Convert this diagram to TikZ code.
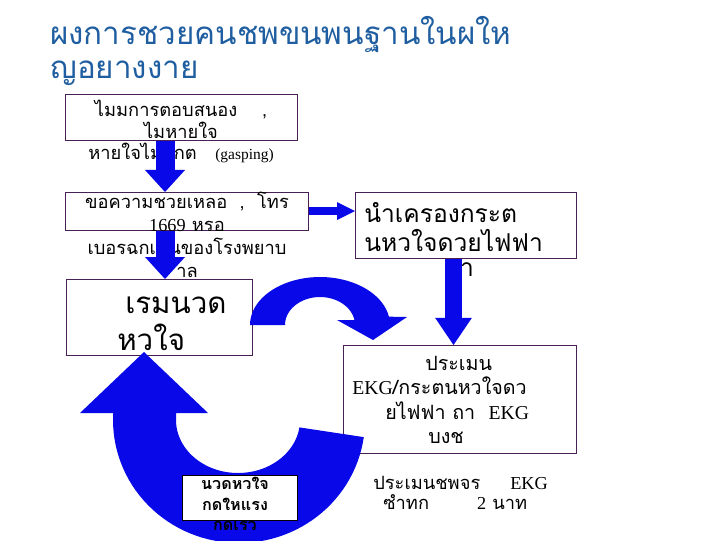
\documentclass[tikz,border=0pt]{standalone}
\usepackage{fontspec}
\setmainfont{Liberation Serif}
\newfontfamily\thaifont[Script=Thai]{Loma}
\usetikzlibrary{arrows.meta}

\definecolor{titleblue}{RGB}{31,94,160}
\definecolor{boxline}{RGB}{72,32,84}
\definecolor{arrowblue}{RGB}{8,8,232}

\tikzset{
  stepbox/.style={draw=boxline, fill=white, line width=0.6pt, inner sep=0pt, anchor=north west},
  thtext/.style={font=\thaifont\fontsize{13}{16}\selectfont, align=center, inner sep=0pt},
  blockarrow/.style 2 args={draw=arrowblue, -{Triangle[width=#1,length=#2,line width=0pt]}},
}

\begin{document}
\begin{tikzpicture}[x=0.025cm,y=-0.025cm]
  \useasboundingbox[fill=white] (0,0) rectangle (720,540);
  \clip (0,0) rectangle (720,540);

  % หัวเรื่อง
  \node[thtext, align=left, anchor=west, text=titleblue,
        font=\thaifont\fontsize{22.3}{24.5}\selectfont] (title) at (50,51)
        {ผงการชวยคนชพขนพนฐานในผให\\ญอยางงาย};

  % กล่องที่ 1
  \node[stepbox, minimum width=232*0.025cm, minimum height=46*0.025cm] (box1) at (65,94) {};
  \node[thtext, font=\thaifont\fontsize{13}{15.6}\selectfont] (txt1) at (181,131.5)
        {ไมมการตอบสนอง\ \ \ \ ,\\ไมหายใจ\\หายใจไมปกต\ \ \ {\rmfamily\fontsize{11}{15.6}\selectfont(gasping)}};

  % กล่องที่ 2
  \node[stepbox, minimum width=243*0.025cm, minimum height=38*0.025cm] (box2) at (65,192) {};
  \node[thtext, font=\thaifont\fontsize{13}{16.3}\selectfont] (txt2) at (187,235)
        {ขอความชวยเหลอ\ \ ,\ \ โทร\\{\rmfamily 1669} หรอ\\เบอรฉกเฉนของโรงพยาบ\\าล};

  % กล่องที่ 3
  \node[stepbox, minimum width=186*0.025cm, minimum height=76*0.025cm] (box3) at (66,279) {};
  \node[thtext, align=left, anchor=west, font=\thaifont\fontsize{21}{26}\selectfont] (txt3) at (117,323.5)
        {\hspace*{0.2cm}เรมนวด\\หวใจ};

  % กล่องที่ 4
  \node[stepbox, minimum width=221*0.025cm, minimum height=66*0.025cm] (box4) at (355,192) {};
  \node[thtext, align=left, anchor=west, font=\thaifont\fontsize{17.5}{21}\selectfont] (txt4) at (364,227)
        {นำเครองกระต\\นหวใจดวยไฟฟา};
  \node[thtext, font=\thaifont\fontsize{17.5}{21}\selectfont] (txt4b) at (459,270) {มา};

  % กล่องที่ 5
  \node[stepbox, minimum width=233*0.025cm, minimum height=108*0.025cm] (box5) at (343,345) {};
  \node[thtext, align=left, anchor=west, font=\thaifont\fontsize{14}{17.4}\selectfont] (txt5) at (352,400)
        {\hspace*{1.825cm}ประเมน\\{\rmfamily EKG}/กระตนหวใจดว\\\hspace*{0.825cm}ยไฟฟา ถา\ \ {\rmfamily EKG}\\\hspace*{1.9cm}บงช};

  % ลูกศรตรง
  \coordinate (ax) at (165,0);
  \coordinate (bx) at (453.5,0);
  \coordinate (cy) at (0,211);
  \draw[blockarrow={1cm}{0.55cm}, line width=0.475cm] (box1.south -| ax) -- (box2.north -| ax);
  \draw[blockarrow={1cm}{0.55cm}, line width=0.475cm] (box2.south -| ax) -- (box3.north -| ax);
  \draw[blockarrow={0.45cm}{0.45cm}, line width=0.22cm] (box2.east |- cy) -- (box4.west |- cy);
  \draw[blockarrow={0.92cm}{0.68cm}, line width=0.43cm] (box4.south -| bx) -- (box5.north -| bx);

  % ลูกศรโค้งด้านบน
  \fill[arrowblue] (250,325)
    -- plot[domain=180:350, samples=40] ({320+70*cos(\x)},{325+48*sin(\x)})
    -- (407,317) -- (373,340) -- (337,320)
    -- plot[domain=350:180, samples=40] ({320+35*cos(\x)},{325+28*sin(\x)})
    -- cycle;

  % ลูกศรโค้งด้านล่าง
  \fill[arrowblue] (113,413)
    -- plot[domain=180:8, samples=60] ({239+126*cos(\x)},{420+123*sin(\x)})
    -- plot[domain=8:180, samples=60] ({238+62*cos(\x)},{420+53*sin(\x)})
    -- (176,413) -- (208,413) -- (144,352) -- (80,413) -- cycle;

  % ป้ายกลางลูกศร
  \node[stepbox, draw=black, minimum width=115*0.025cm, minimum height=45*0.025cm] (label) at (182,475) {};
  \node[thtext, font=\thaifont\bfseries\fontsize{11.5}{14.8}\selectfont] (txtlabel) at (235,504)
        {นวดหวใจ\\กดใหแรง\\กดเรว};

  % ข้อความมุมล่างขวา
  \node[thtext, align=left, anchor=west, font=\thaifont\fontsize{13}{14.2}\selectfont] (txt6) at (373,493)
        {ประเมนชพจร\hspace{0.75cm}{\rmfamily EKG}\\\hspace*{0.25cm}ซำทก\hspace{1.2cm}{\rmfamily 2} นาท};
\end{tikzpicture}
\end{document}
